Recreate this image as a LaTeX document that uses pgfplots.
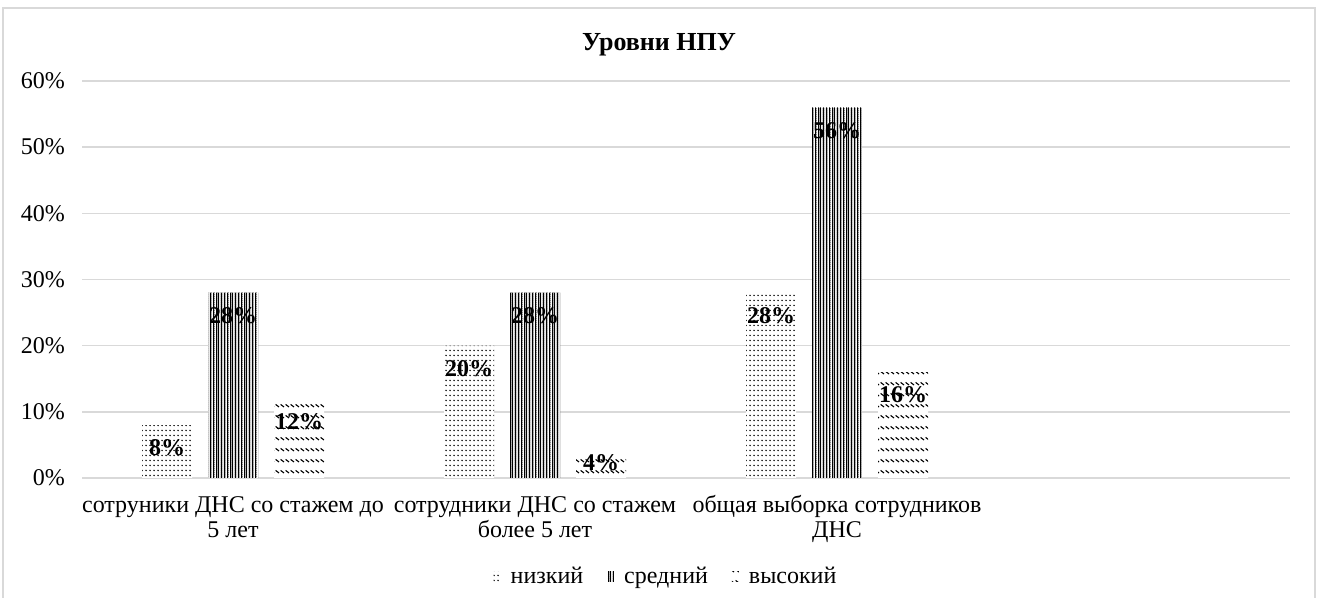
\documentclass[border=0pt]{standalone}
\usepackage{fontspec}
\setmainfont{Liberation Serif}
\usepackage{pgfplots}
\pgfplotsset{compat=1.18}
\usetikzlibrary{patterns}
\definecolor{gridgray}{HTML}{D9D9D9}
\pgfdeclarepatternformonly{lowdots}{\pgfpoint{-0.1pt}{-0.1pt}}{\pgfpoint{2.1pt}{2.6pt}}{\pgfpoint{2pt}{2.5pt}}{%
  \pgfpathcircle{\pgfpoint{1pt}{1.25pt}}{0.38pt}\pgfusepath{fill}}
\pgfdeclarepatternformonly{middense}{\pgfpoint{-0.1pt}{-0.1pt}}{\pgfpoint{1.5pt}{1.1pt}}{\pgfpoint{1.4pt}{1pt}}{%
  \pgfpathrectangle{\pgfpoint{0pt}{0pt}}{\pgfpoint{0.2pt}{1pt}}\pgfusepath{fill}%
  \pgfpathcircle{\pgfpoint{0.85pt}{0.5pt}}{0.25pt}\pgfusepath{fill}}
\pgfdeclarepatternformonly{highzig}{\pgfpoint{-0.1pt}{-0.1pt}}{\pgfpoint{2.6pt}{5.6pt}}{\pgfpoint{2.5pt}{5.5pt}}{%
  \pgfsetlinewidth{0.55pt}%
  \pgfpathmoveto{\pgfpoint{0.3pt}{3.3pt}}\pgfpathlineto{\pgfpoint{2.0pt}{2.0pt}}\pgfusepath{stroke}}
\begin{document}
\begin{tikzpicture}
\path[use as bounding box] (0,0) rectangle (659pt,299pt);
\draw[gridgray, line width=0.8pt] (1.5pt,0) -- (1.5pt,295pt) -- (657.5pt,295pt) -- (657.5pt,0);
\node[font=\fontsize{13}{15}\selectfont\bfseries] at (329.5pt,276.5pt) {Уровни НПУ};
\begin{axis}[
  scale only axis,
  width=604pt, height=198.5pt,
  at={(41pt,60pt)}, anchor=south west,
  xmin=-0.5, xmax=3.5,
  ymin=0, ymax=60,
  xtick={0,1,2},
  xticklabels={{\strut сотруники ДНС со стажем до\\5 лет},{\strut сотрудники ДНС со стажем\\более 5 лет},{\strut общая выборка сотрудников\\ДНС}},
  xticklabel style={align=center, font=\fontsize{12}{12.5}\selectfont, anchor=north, yshift=-5pt},
  ytick={0,10,20,30,40,50,60},
  yticklabels={0\%,10\%,20\%,30\%,40\%,50\%,60\%},
  yticklabel style={font=\fontsize{12}{13}\selectfont, xshift=-5pt},
  major tick length=0pt,
  ymajorgrids, grid style={gridgray, line width=0.8pt},
  axis line style={draw=none},
  bar width=25pt,
  ybar,
  visualization depends on={y \as \rawy},
  nodes near coords={\pgfmathprintnumber[assume math mode=true]{\pgfplotspointmeta}\%},
  every node near coord/.append style={font=\fontsize{12}{13}\selectfont\bfseries, text=black, anchor=center, yshift={-min(11.5,\rawy*3.308-7.5)*1pt}},
  legend columns=-1,
  legend style={draw=none, at={(0.4843,-0.249)}, anchor=center, font=\fontsize{12}{13}\selectfont,
    /tikz/every odd column/.append style={column sep=3pt},
    /tikz/every even column/.append style={column sep=10pt}},
  legend image code/.code={\path[#1,draw=none] (0pt,-2.5pt) rectangle (3.5pt,2.5pt);},
]
\addplot[bar shift=-33pt, draw=none, fill=white, postaction={pattern=lowdots}] coordinates {(0,8) (1,20) (2,28)};
\addplot[bar shift=0pt, draw=none, fill=white, postaction={pattern=middense}] coordinates {(0,28) (1,28) (2,56)};
\addplot[bar shift=33pt, draw=none, fill=white, postaction={pattern=highzig}] coordinates {(0,12) (1,4) (2,16)};
\legend{низкий,средний,высокий}
\end{axis}
\end{tikzpicture}
\end{document}
